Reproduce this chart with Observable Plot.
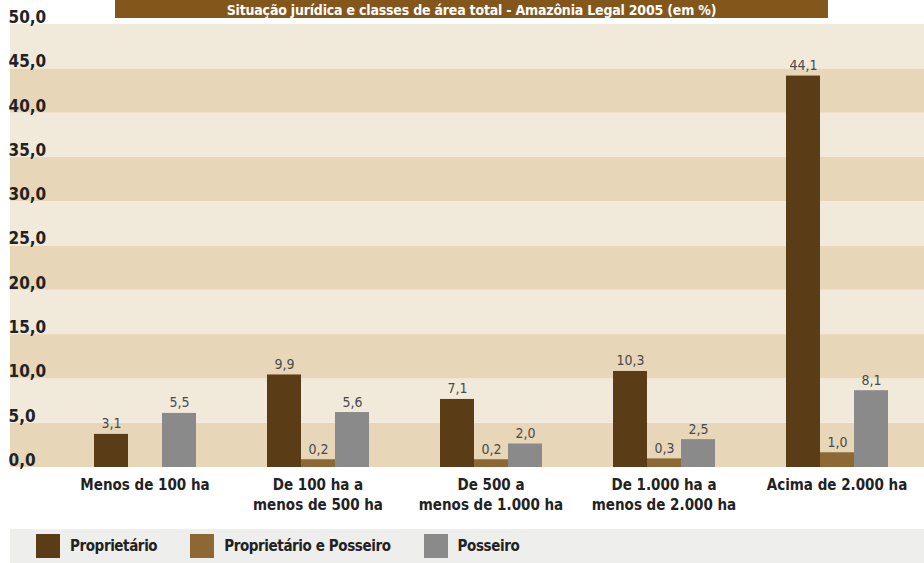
<!DOCTYPE html>
<html><head><meta charset="utf-8">
<script src="https://cdn.jsdelivr.net/npm/d3@7"></script>
<script src="https://cdn.jsdelivr.net/npm/@observablehq/plot@0.6"></script>
<style>
html,body{margin:0;padding:0;background:#fff;}
#wrap{position:relative;width:924px;height:563px;overflow:hidden;font-family:"DejaVu Sans Condensed","DejaVu Sans",sans-serif;font-stretch:condensed;}
#wrap svg, #wrap svg text{font-stretch:condensed;}
#bg,#fg{position:absolute;left:0;top:0;}
#title{position:absolute;left:115px;top:0;width:713px;height:18px;background:#83561b;overflow:hidden;text-align:center;}
#title span{position:relative;top:0px;color:#fff;font-weight:bold;font-size:14px;line-height:18px;white-space:nowrap;letter-spacing:-0.2px;}
#legend{position:absolute;left:10px;top:529px;width:914px;height:34px;background:#eeeeec;display:flex;align-items:center;padding-left:26px;box-sizing:border-box;}
#legend .item{display:flex;align-items:center;margin-right:33px;font-weight:bold;font-size:15px;color:#222;letter-spacing:-0.4px;}
#legend .sw{width:24px;height:24px;margin-right:10px;}
</style></head>
<body><div id="wrap"><div id="bg"></div><div id="fg"></div><div id="title"><span></span></div><div id="legend"></div></div>
<script>
const titleText = "Situação jurídica e classes de área total - Amazônia Legal 2005 (em %)";
const categories = ["Menos de 100 ha", "De 100 ha a\nmenos de 500 ha", "De 500 a\nmenos de 1.000 ha", "De 1.000 ha a\nmenos de 2.000 ha", "Acima de 2.000 ha"];
const series = ["Proprietário", "Proprietário e Posseiro", "Posseiro"];
const colors = ["#5a3c17", "#8b6834", "#8a8a8a"];
const proprietario = [3.1, 9.9, 7.1, 10.3, 44.1];
const proprietarioPosseiro = [null, 0.2, 0.2, 0.3, 1.0];
const posseiro = [5.5, 5.6, 2.0, 2.5, 8.1];
const yTicks = [0, 5, 10, 15, 20, 25, 30, 35, 40, 45, 50];
const bandColors = ["#e8d6b9", "#f1eadb"];

const fmt = v => v.toFixed(1).replace(".", ",");
const FONT = '"DejaVu Sans Condensed","DejaVu Sans",sans-serif';

const values = [proprietario, proprietarioPosseiro, posseiro];
const rows = [];
categories.forEach((c, i) => series.forEach((s, j) => {
  const v = values[j][i];
  if (v != null) rows.push({cat: c, series: s, value: v});
}));
const bands = yTicks.slice(0, -1).map((t, i) => ({y1: t, y2: yTicks[i + 1], k: i % 2}));

const bg = Plot.plot({
  width: 924, height: 528, marginTop: 24, marginBottom: 61, marginLeft: 10, marginRight: 0,
  style: {background: "transparent", fontFamily: FONT, fontStretch: "condensed"},
  x: {axis: null},
  y: {domain: [0, 50], axis: null},
  marks: [
    Plot.rectY(bands, {y1: "y1", y2: "y2", fill: d => bandColors[d.k]}),
    Plot.text(yTicks, {y: d => d, text: d => fmt(d), frameAnchor: "left", textAnchor: "start", dx: -2, dy: -7,
      fontSize: 17, fontWeight: "bold", fill: "#222"})
  ]
});
document.getElementById("bg").appendChild(bg);

// bars sit on a slightly raised zero with a base that reaches the baseline, as in the original artwork
const fg = Plot.plot({
  width: 924, height: 528, marginTop: 24, marginBottom: 67, marginLeft: 56, marginRight: 0,
  style: {background: "transparent", fontFamily: FONT, fontStretch: "condensed"},
  facet: {data: rows, x: "cat"},
  fx: {domain: categories, padding: 0, axis: null},
  x: {domain: series, paddingInner: 0, paddingOuter: 0.98, axis: null},
  y: {domain: [0, 50], axis: null},
  color: {domain: series, range: colors},
  marks: [
    Plot.barY(rows, {x: "series", y: "value", fill: "series", insetBottom: -6}),
    Plot.text(rows, {x: "series", y: "value", text: d => fmt(d.value), dy: -6, lineAnchor: "bottom",
      fontSize: 14, fill: "#4a4a4a"}),
    Plot.text(rows, {filter: d => d.series === series[2], text: "cat", frameAnchor: "bottom", lineAnchor: "top",
      dy: 15, fontSize: 15, fontWeight: "bold", fill: "#222", lineHeight: 1.3})
  ]
});
document.getElementById("fg").appendChild(fg);

document.querySelector("#title span").textContent = titleText;
const lg = document.getElementById("legend");
series.forEach((s, i) => {
  const it = document.createElement("div"); it.className = "item";
  const sw = document.createElement("div"); sw.className = "sw"; sw.style.background = colors[i];
  const tx = document.createElement("span"); tx.textContent = s;
  it.appendChild(sw); it.appendChild(tx); lg.appendChild(it);
});
</script></body></html>
